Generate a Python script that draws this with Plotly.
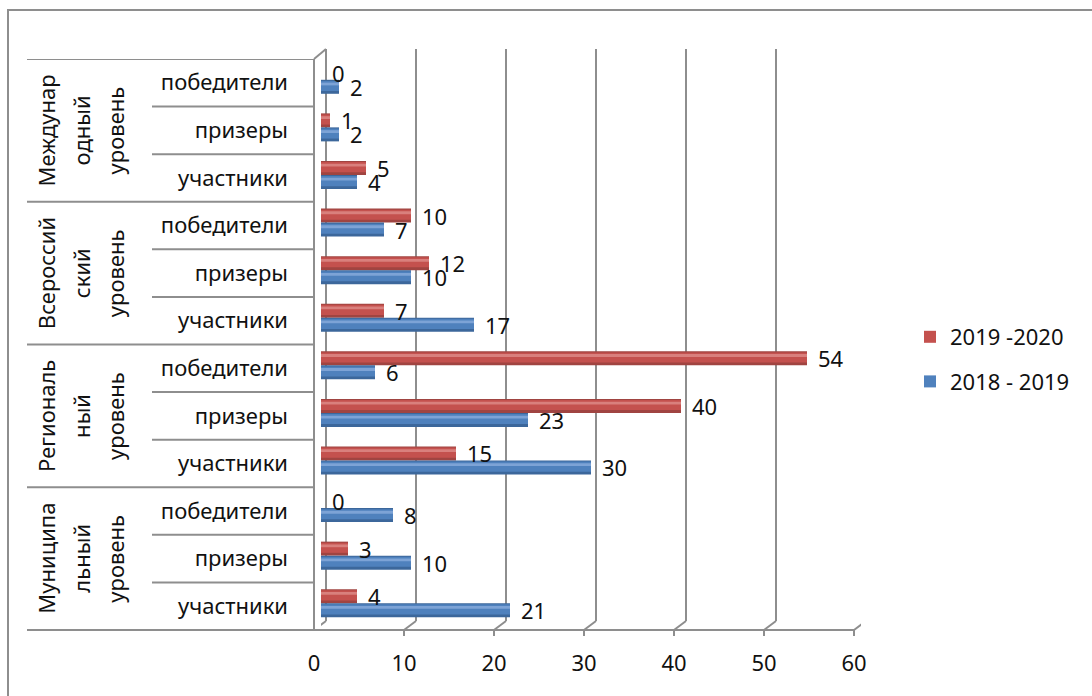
import plotly.graph_objects as go

# ---- data -------------------------------------------------------------
ROLES = ["участники", "призеры", "победители"]
LEVEL_LINES = [
    ["Муниципа", "льный", "уровень"],
    ["Региональ", "ный", "уровень"],
    ["Всероссий", "ский", "уровень"],
    ["Междунар", "одный", "уровень"],
]
SERIES_NAMES = ["2019 -2020", "2018 - 2019"]
# rows go bottom -> top: level by level, roles within each level
VALUES_2019_2020 = [4, 3, 0, 15, 40, 54, 7, 12, 10, 5, 1, 0]
VALUES_2018_2019 = [21, 10, 8, 30, 23, 6, 17, 10, 7, 4, 2, 2]
X_TICKS = [0, 10, 20, 30, 40, 50, 60]

# ---- geometry / style -------------------------------------------------
W, H = 1092, 696
PL, PR, PT, PB = 321, 861, 59, 630          # plot area in pixels
FRONT, BACK, DEPTH = -7, 5, 9               # 3-D wall offsets (px)
FONT = "Noto Sans"
FS = 22
GRID = "#8e8e8e"

RED = dict(dark="#a04441", main="#c4514e", light="#d9807d")
BLUE = dict(dark="#3c679b", main="#4f81bd", light="#7da3d6")

ROW_PX = (PB - PT) / 12.0
BAR_W = 14 / ROW_PX
RED_C = 10 / ROW_PX          # red bar centre above row centre
BLUE_C = -4 / ROW_PX         # blue bar centre below row centre


def px_x(px):
    return (px - PL) / (PR - PL)


def px_y(py):
    return (PB - py) / (PB - PT)


rows = list(range(len(VALUES_2018_2019)))
tick_text = ROLES * len(LEVEL_LINES)

fig = go.Figure()


def add_cylinder(values, name, col, centre, group):
    base_off = centre - BAR_W / 2
    # body with darker rim
    fig.add_trace(go.Bar(
        x=values, y=rows, orientation="h", name=name,
        width=BAR_W, offset=base_off,
        marker=dict(color=col["dark"], line=dict(width=0)),
        legendgroup=group, showlegend=False, hoverinfo="x+name",
    ))
    fig.add_trace(go.Bar(
        x=values, y=rows, orientation="h", name=name,
        width=BAR_W * 0.72, offset=base_off + BAR_W * 0.2,
        marker=dict(color=col["main"], line=dict(width=0)),
        legendgroup=group, showlegend=True, hoverinfo="x+name",
    ))
    fig.add_trace(go.Bar(
        x=values, y=rows, orientation="h", name=name,
        width=BAR_W * 0.2, offset=base_off + BAR_W * 0.6,
        marker=dict(color=col["light"], line=dict(width=0)),
        legendgroup=group, showlegend=False, hoverinfo="skip",
    ))


add_cylinder(VALUES_2019_2020, SERIES_NAMES[0], RED, RED_C, "a")
add_cylinder(VALUES_2018_2019, SERIES_NAMES[1], BLUE, BLUE_C, "b")

annotations = []
# value labels
for vals, c in ((VALUES_2019_2020, RED_C), (VALUES_2018_2019, BLUE_C)):
    for r, v in zip(rows, vals):
        annotations.append(dict(
            x=v, y=r + c, xref="x", yref="y", text=str(v),
            showarrow=False, xanchor="left", yanchor="middle", xshift=9,
            font=dict(family=FONT, size=FS, color="#111111"),
        ))

# rotated level labels
LINE_X = [46, 81, 115]
for g, lines in enumerate(LEVEL_LINES):
    for lx, txt in zip(LINE_X, lines):
        annotations.append(dict(
            x=px_x(lx), y=g * 3 + 1, xref="paper", yref="y", text=txt,
            showarrow=False, textangle=-90, xanchor="center", yanchor="middle",
            font=dict(family=FONT, size=FS, color="#111111"),
        ))

shapes = []
line_style = dict(color=GRID, width=2)
# outer frame
shapes.append(dict(type="rect", xref="paper", yref="paper",
                   x0=px_x(8), x1=px_x(1110), y0=px_y(10), y1=px_y(720),
                   line=line_style, layer="below"))
# back wall gridlines
for v in X_TICKS:
    shapes.append(dict(type="line", xref="x", xsizemode="pixel", xanchor=v,
                       x0=BACK, x1=BACK, yref="paper",
                       y0=px_y(PB - DEPTH), y1=px_y(PT - DEPTH - 1),
                       line=line_style, layer="below"))
    # floor slant
    shapes.append(dict(type="line", xref="x", xsizemode="pixel", xanchor=v,
                       x0=FRONT, x1=BACK, yref="paper",
                       y0=px_y(PB), y1=px_y(PB - DEPTH),
                       line=line_style, layer="below"))
    # tick mark
    shapes.append(dict(type="line", xref="x", xsizemode="pixel", xanchor=v,
                       x0=FRONT, x1=FRONT, yref="paper",
                       y0=px_y(PB), y1=px_y(PB + 6),
                       line=line_style, layer="below"))
# front floor edge
shapes.append(dict(type="line", xref="paper", yref="paper",
                   x0=px_x(27), x1=px_x(PR + FRONT), y0=0, y1=0,
                   line=line_style, layer="below"))
# front left edge and its top slant
shapes.append(dict(type="line", xref="paper", yref="paper",
                   x0=px_x(PL + FRONT), x1=px_x(PL + FRONT), y0=0, y1=1,
                   line=line_style, layer="below"))
shapes.append(dict(type="line", xref="paper", yref="paper",
                   x0=px_x(PL + FRONT), x1=px_x(PL + BACK), y0=1,
                   y1=px_y(PT - DEPTH - 1), line=line_style, layer="below"))
# category table rules
for k in range(len(rows) + 1):
    y = k - 0.5
    if k % 3 == 0:
        x0 = px_x(27)
    else:
        x0 = px_x(152)
    shapes.append(dict(type="line", xref="paper", yref="y",
                       x0=x0, x1=px_x(PL + FRONT), y0=y, y1=y,
                       line=line_style, layer="below"))

fig.update_layout(
    width=W, height=H,
    margin=dict(l=PL, r=W - PR, t=PT, b=H - PB, pad=0),
    paper_bgcolor="white", plot_bgcolor="rgba(0,0,0,0)",
    barmode="overlay",
    font=dict(family=FONT, size=FS, color="#111111"),
    showlegend=True,
    legend=dict(
        x=px_x(910), y=px_y(316), xanchor="left", yanchor="top",
        font=dict(family=FONT, size=FS, color="#111111"),
        traceorder="grouped", tracegroupgap=13, itemwidth=30,
        bgcolor="rgba(0,0,0,0)",
    ),
    xaxis=dict(
        range=[0, 60], tickvals=X_TICKS, showgrid=False, zeroline=False,
        showline=False, ticks="", ticklabelshift=FRONT,
        ticklabelstandoff=18, tickfont=dict(family=FONT, size=FS),
        fixedrange=True,
    ),
    yaxis=dict(
        range=[-0.5, len(rows) - 0.5], tickvals=rows, ticktext=tick_text,
        showgrid=False, zeroline=False, showline=False, ticks="",
        ticklabelstandoff=32, tickfont=dict(family=FONT, size=FS),
        fixedrange=True,
    ),
    annotations=annotations,
    shapes=shapes,
)

fig.write_html("out.html")
